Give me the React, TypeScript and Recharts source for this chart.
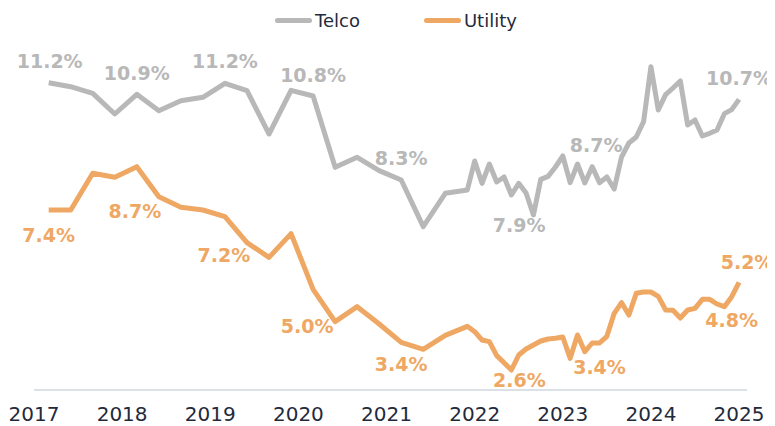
import React from 'react';
import { LineChart, Line, XAxis, YAxis, LabelList } from 'recharts';

// Quarterly to end-2021, monthly from 2022
const dates = [
    '2017-03', '2017-06', '2017-09', '2017-12',
    '2018-03', '2018-06', '2018-09', '2018-12',
    '2019-03', '2019-06', '2019-09', '2019-12',
    '2020-03', '2020-06', '2020-09', '2020-12',
    '2021-03', '2021-06', '2021-09', '2021-12',
    '2022-01', '2022-02', '2022-03', '2022-04', '2022-05', '2022-06',
    '2022-07', '2022-08', '2022-09', '2022-10', '2022-11', '2022-12',
    '2023-01', '2023-02', '2023-03', '2023-04', '2023-05', '2023-06',
    '2023-07', '2023-08', '2023-09', '2023-10', '2023-11', '2023-12',
    '2024-01', '2024-02', '2024-03', '2024-04', '2024-05', '2024-06',
    '2024-07', '2024-08', '2024-09', '2024-10', '2024-11', '2024-12',
    '2025-01',
];

const telco = [
    11.22, 11.1, 10.9, 10.28, 10.87, 10.38, 10.68, 10.78, 11.2, 10.98,
    9.68, 10.99, 10.82, 8.68, 8.98, 8.58, 8.3, 6.9, 7.9, 8.0,
    8.87, 8.2, 8.78, 8.24, 8.39, 7.85, 8.2, 7.91, 7.25, 8.32, 8.41, 8.69,
    9.02, 8.22, 8.78, 8.21, 8.7, 8.22, 8.39, 8.03, 8.99, 9.41, 9.59, 10.05,
    11.7, 10.4, 10.86, 11.06, 11.27, 9.95, 10.1, 9.62, 9.7, 9.8, 10.29, 10.41,
    10.72,
];

const utility = [
    7.4, 7.4, 8.5, 8.38, 8.7, 7.8, 7.48, 7.4, 7.2, 6.42,
    5.98, 6.69, 5.02, 4.05, 4.5, 3.98, 3.43, 3.22, 3.64, 3.91,
    3.75, 3.5, 3.45, 3.03, 2.82, 2.6, 3.05, 3.23, 3.35, 3.47, 3.53, 3.55,
    3.59, 2.95, 3.65, 3.15, 3.41, 3.41, 3.61, 4.3, 4.62, 4.25, 4.9, 4.94,
    4.94, 4.81, 4.4, 4.39, 4.16, 4.4, 4.45, 4.72, 4.72, 4.58, 4.5, 4.8,
    5.23,
];

const yearTicks = [2017, 2018, 2019, 2020, 2021, 2022, 2023, 2024, 2025];

// Callout labels: [date, text]
const telcoLabels: [string, string][] = [
    ['2017-03', '11.2%'],
    ['2018-03', '10.9%'],
    ['2019-03', '11.2%'],
    ['2020-03', '10.8%'],
    ['2021-03', '8.3%'],
    ['2022-08', '7.9%'],
    ['2023-05', '8.7%'],
    ['2025-01', '10.7%'],
];

const utilityLabels: [string, string][] = [
    ['2017-03', '7.4%'],
    ['2018-03', '8.7%'],
    ['2019-03', '7.2%'],
    ['2020-03', '5.0%'],
    ['2021-03', '3.4%'],
    ['2022-06', '2.6%'],
    ['2023-06', '3.4%'],
    ['2024-12', '4.8%'],
    ['2025-01', '5.2%'],
];

// where each callout sits relative to its point (px)
const telcoOffsets: Record<string, [number, number]> = {
    '2017-03': [1, -22],
    '2018-03': [0, -21],
    '2019-03': [0, -22],
    '2020-03': [0, -21],
    '2021-03': [0, -22],
    '2022-08': [-7, 32],
    '2023-05': [4, -22],
    '2025-01': [0, -21],
};

const utilityOffsets: Record<string, [number, number]> = {
    '2017-03': [0, 25],
    '2018-03': [-2, 44],
    '2019-03': [-1, 38],
    '2020-03': [-6, 37],
    '2021-03': [0, 22],
    '2022-06': [8, 10],
    '2023-06': [0, 24],
    '2024-12': [0, 23],
    '2025-01': [8, -20],
};

const TELCO_COLOR = '#B8B8B8';
const UTILITY_COLOR = '#EFA764';
const FONT = '"DejaVu Sans", Verdana, sans-serif';

const toYear = (d: string) => {
    const [y, m] = d.split('-').map(Number);
    return y + (m - 1) / 12;
};

const chartData = dates.map((d, i) => ({
    date: d,
    t: toYear(d),
    telco: telco[i],
    utility: utility[i],
}));

const makeLabel = (
    labels: [string, string][],
    offsets: Record<string, [number, number]>,
    color: string
) => {
    const lookup = new Map(labels);
    return (props: any) => {
        const { x, y, index } = props;
        const d = dates[index];
        const text = lookup.get(d);
        if (!text) return null;
        const [dx, dy] = offsets[d] || [0, 0];
        return (
            <text
                key={`lbl-${d}`}
                x={x + dx}
                y={y + dy}
                fill={color}
                textAnchor="middle"
                dominantBaseline="central"
                fontFamily={FONT}
                fontWeight="bold"
                fontSize={19}
            >
                {text}
            </text>
        );
    };
};

const LegendItem: React.FC<{ color: string; label: string }> = ({ color, label }) => (
    <div style={{ display: 'flex', alignItems: 'center' }}>
        <span
            style={{
                display: 'inline-block',
                width: 37,
                height: 5,
                borderRadius: 3,
                background: color,
                marginRight: 3,
            }}
        />
        <span style={{ fontFamily: FONT, fontSize: 18, color: '#1F2A3C' }}>{label}</span>
    </div>
);

export default function App() {
    return (
        <div style={{ position: 'relative', width: 767, height: 418 }}>
            <LineChart
                width={767}
                height={418}
                data={chartData}
                margin={{ top: 32, right: 28, bottom: 0, left: 26 }}
            >
                <XAxis
                    dataKey="t"
                    type="number"
                    domain={[2017, 2025.09]}
                    ticks={yearTicks}
                    tickFormatter={(v) => String(v)}
                    axisLine={{ stroke: '#DCE1E8', strokeWidth: 2 }}
                    tickLine={false}
                    tickMargin={11}
                    height={36}
                    interval={0}
                    tick={{ fontFamily: FONT, fontSize: 20, fill: '#1F2A3C' }}
                />
                <YAxis hide domain={[2, 12.5]} type="number" />
                <Line
                    dataKey="telco"
                    stroke={TELCO_COLOR}
                    strokeWidth={5}
                    strokeLinejoin="round"
                    dot={false}
                    isAnimationActive={false}
                >
                    <LabelList
                        dataKey="telco"
                        content={makeLabel(telcoLabels, telcoOffsets, TELCO_COLOR)}
                    />
                </Line>
                <Line
                    dataKey="utility"
                    stroke={UTILITY_COLOR}
                    strokeWidth={5}
                    strokeLinejoin="round"
                    dot={false}
                    isAnimationActive={false}
                >
                    <LabelList
                        dataKey="utility"
                        content={makeLabel(utilityLabels, utilityOffsets, UTILITY_COLOR)}
                    />
                </Line>
            </LineChart>
            <div
                style={{
                    position: 'absolute',
                    top: 0,
                    left: 267,
                    height: 24,
                    display: 'flex',
                    alignItems: 'center',
                    gap: 64,
                }}
            >
                <LegendItem color={TELCO_COLOR} label="Telco" />
                <LegendItem color={UTILITY_COLOR} label="Utility" />
            </div>
        </div>
    );
}
